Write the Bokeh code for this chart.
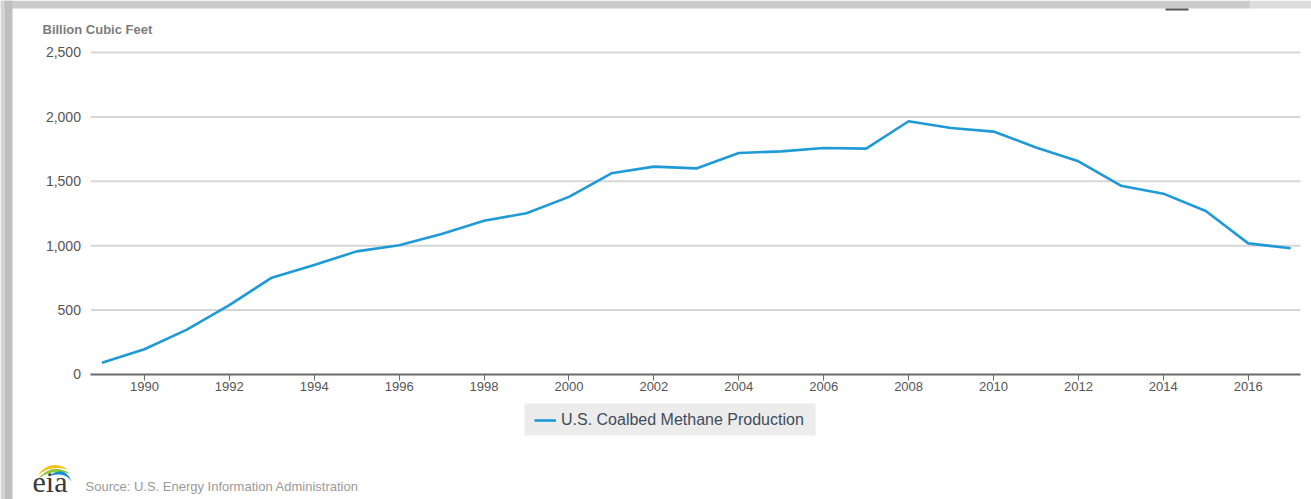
import numpy as np
from bokeh.plotting import figure
from bokeh.models import (ColumnDataSource, Legend, LegendItem, NumeralTickFormatter,
                          FixedTicker, Range1d, Label, BoxAnnotation, PolyAnnotation)
from bokeh.embed import file_html
from bokeh.resources import INLINE

years = list(range(1989, 2018))
production = [91, 196, 348, 539, 752, 851, 956, 1003, 1090, 1194, 1252, 1379, 1562,
              1614, 1600, 1720, 1732, 1758, 1754, 1966, 1914, 1886, 1763, 1655, 1466,
              1404, 1270, 1018, 980]
series_name = "U.S. Coalbed Methane Production"
y_title = "Billion Cubic Feet"
source_text = "Source: U.S. Energy Information Administration"
x_ticks = list(range(1990, 2017, 2))
y_ticks = [0, 500, 1000, 1500, 2000, 2500]

FONT = "Liberation Sans"
LINE_COLOR = "#1f9ad6"
W, H = 1311, 499

# The plotting frame covers the whole canvas; axes are pinned with fixed_location.
X0, X1 = 1988.74, 2017.23            # extent of the chart area (axis line / grid lines)
x_range = Range1d(1986.61, 2017.49)
y_range = Range1d(-970.5, 2903.7)

p = figure(width=W, height=H, output_backend="svg", toolbar_location=None, title=None,
           x_range=x_range, y_range=y_range, min_border=0)
p.outline_line_color = None
p.background_fill_color = "white"
p.border_fill_color = "white"
p.xgrid.grid_line_color = None
p.ygrid.grid_line_color = None

# horizontal grid lines (limited to the chart area)
p.segment(x0=[X0] * (len(y_ticks) - 1), x1=[X1] * (len(y_ticks) - 1), y0=y_ticks[1:],
          y1=y_ticks[1:], line_color="#d6d6d6", line_width=2)

src = ColumnDataSource(dict(x=years, y=production))
r = p.line("x", "y", source=src, line_color=LINE_COLOR, line_width=2.6)

xa = p.xaxis[0]
xa.fixed_location = 0
xa.bounds = (X0, X1)
xa.ticker = FixedTicker(ticks=x_ticks)
xa.axis_line_color = "#6a6a6a"
xa.axis_line_width = 2
xa.major_tick_line_color = "#6a6a6a"
xa.major_tick_line_width = 1
xa.major_tick_out = 6
xa.major_tick_in = 0
xa.minor_tick_line_color = None
xa.major_label_text_font = FONT
xa.major_label_text_font_size = "13px"
xa.major_label_text_color = "#555555"
xa.major_label_standoff = 2

ya = p.yaxis[0]
ya.fixed_location = X0
ya.ticker = FixedTicker(ticks=y_ticks)
ya.formatter = NumeralTickFormatter(format="0,0")
ya.axis_line_color = None
ya.major_tick_line_color = None
ya.major_tick_out = 0
ya.major_tick_in = 0
ya.minor_tick_line_color = None
ya.major_label_text_font = FONT
ya.major_label_text_font_size = "14px"
ya.major_label_text_color = "#555555"
ya.major_label_standoff = 10


def sbox(left, right, top, bottom, color, level="overlay"):
    """Box in page pixels (top-left origin) -> screen units (bottom-left origin)."""
    return BoxAnnotation(left=left, right=right, top=H - top, bottom=H - bottom,
                         left_units="screen", right_units="screen", top_units="screen",
                         bottom_units="screen", fill_color=color, fill_alpha=1,
                         line_color=None, level=level)


# legend panel background, then the legend itself
p.add_layout(sbox(524, 815, 403, 435, "#ececec", level="annotation"))
legend = Legend(items=[LegendItem(label=series_name, renderers=[r])],
                location=(534, 70), orientation="horizontal",
                background_fill_alpha=0, border_line_color=None,
                label_text_font=FONT, label_text_font_size="16px",
                label_text_color="#3f4b5b", glyph_width=22, glyph_height=12,
                label_height=12, padding=10, margin=0, label_standoff=5)
p.add_layout(legend, "center")

# screenshot frame
p.add_layout(sbox(0, 1250, 0, 8, "#cbcbcb"))
p.add_layout(sbox(1250, W, 0, 8, "#dcdcdc"))
p.add_layout(sbox(0, 4, 0, H, "#d4d4d4"))
p.add_layout(sbox(4, 12, 0, H, "#bfbfbf"))
p.add_layout(sbox(1165, 1188, 8, 10, "#555555"))

p.add_layout(Label(x=42, y=H - 29, x_units="screen", y_units="screen", text=y_title,
                   text_font=FONT, text_font_size="13px", text_font_style="bold",
                   text_color="#7c7c7c", text_baseline="middle"))
p.add_layout(Label(x=85, y=H - 486, x_units="screen", y_units="screen", text=source_text,
                   text_font=FONT, text_font_size="13px", text_color="#9a9a9a",
                   text_baseline="middle"))
p.add_layout(Label(x=32, y=H - 481, x_units="screen", y_units="screen", text="eia",
                   text_font="Liberation Serif", text_font_size="30px",
                   text_color="#3a3a3a", text_baseline="middle"))

# eia swoosh (three coloured bands), page pixels
def swoosh(p0, c, p1, thick):
    t = np.linspace(0, 1, 20)
    xs = (1 - t) ** 2 * p0[0] + 2 * (1 - t) * t * c[0] + t ** 2 * p1[0]
    ys = (1 - t) ** 2 * p0[1] + 2 * (1 - t) * t * c[1] + t ** 2 * p1[1]
    w = thick * np.sin(np.pi * t) + 0.4
    upper = ys - w / 2
    lower = ys + w / 2
    px = list(xs) + list(xs[::-1])
    py = [H - v for v in list(upper) + list(lower[::-1])]
    return px, py


for (p0, c, p1, th, col) in [((37, 475), (50, 461), (67, 469), 3.0, "#f2c21b"),
                             ((38, 478), (52, 465), (69, 473), 3.0, "#8dc63f"),
                             ((48, 476), (64, 467), (71, 481), 3.0, "#1a8fd0")]:
    xs, ys = swoosh(p0, c, p1, th)
    p.add_layout(PolyAnnotation(xs=xs, ys=ys, xs_units="screen", ys_units="screen",
                                fill_color=col, fill_alpha=1, line_color=None))

with open("out.html", "w") as fh:
    fh.write(file_html(p, INLINE))
